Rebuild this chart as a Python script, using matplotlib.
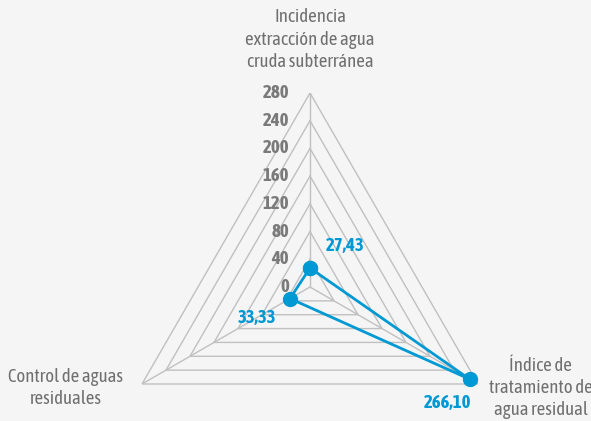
import numpy as np
import matplotlib
matplotlib.use("Agg")
import matplotlib.pyplot as plt
from matplotlib import font_manager

categories = ["Incidencia\nextracción de agua\ncruda subterránea",
              "Índice de\ntratamiento de\nagua residual",
              "Control de aguas\nresiduales"]
values = [27.43, 266.10, 33.33]
value_labels = ["27,43", "266,10", "33,33"]
ticks = [0, 40, 80, 120, 160, 200, 240, 280]

fams = {}
for f in font_manager.fontManager.ttflist:
    if f.style != 'normal':
        continue
    if 'Condensed' in f.name or 'Narrow' in f.name or f.stretch in ('condensed', 'semi-condensed'):
        w = f.weight if isinstance(f.weight, int) else 400
        fams.setdefault(f.name, set()).add(w)
good = sorted(n for n, ws in fams.items() if any(w >= 600 for w in ws) and any(w <= 450 for w in ws))
fam = good[0] if good else "Roboto"
condensed = bool(good)
plt.rcParams['font.family'] = [fam, 'DejaVu Sans']
fs = 13.5 if condensed else 11.5

W, H = 591, 421
fig = plt.figure(figsize=(W/100, H/100), dpi=100, facecolor='#f5f5f5')
cx, cy, R = 310, 421-287, 194
ax = fig.add_axes([(cx-R)/W, (cy-R)/H, 2*R/W, 2*R/H], projection='polar')
ax.set_theta_offset(np.pi/2)
ax.set_theta_direction(-1)
ax.set_ylim(0, 280)
ax.grid(False)
ax.spines['polar'].set_visible(False)
ax.patch.set_visible(False)
ax.set_xticks([]); ax.set_yticks([])

n = len(categories)
theta = np.arange(n) * 2*np.pi/n
closed = np.append(theta, theta[0])
grid_c = '#c0c0c0'
for r in ticks[1:]:
    ax.plot(closed, [r]*(n+1), color=grid_c, lw=1, zorder=1)
for t in theta:
    ax.plot([t, t], [0, ticks[-1]], color=grid_c, lw=1, zorder=1)

for r in ticks:
    ax.annotate(str(r), xy=(0, r), xytext=(-15, 0), textcoords='offset points',
                ha='right', va='center', fontsize=fs, fontweight='bold', color='#7a7a7a')

blue = '#0099d3'
vals = values + values[:1]
ax.plot(closed, vals, color=blue, lw=2, marker='o', markersize=10, zorder=3, clip_on=False)

offs = [(25, 16), (-16, -17), (-24, -14)]
for t, v, lab, o in zip(theta, values, value_labels, offs):
    ax.annotate(lab, xy=(t, v), xytext=o, textcoords='offset points',
                ha='center', va='center', fontsize=fs, fontweight='bold', color=blue)

cat_offs = [((0, 16), 'center', 'bottom'), ((45, -3), 'center', 'center'), ((-55, -3), 'center', 'center')]
for t, lab, (o, ha, va) in zip(theta, categories, cat_offs):
    ax.annotate(lab, xy=(t, 280), xytext=o, textcoords='offset points',
                ha=ha, va=va, fontsize=fs, color='#707070', linespacing=1.3)

fig.savefig('out.png', dpi=100, facecolor=fig.get_facecolor())
